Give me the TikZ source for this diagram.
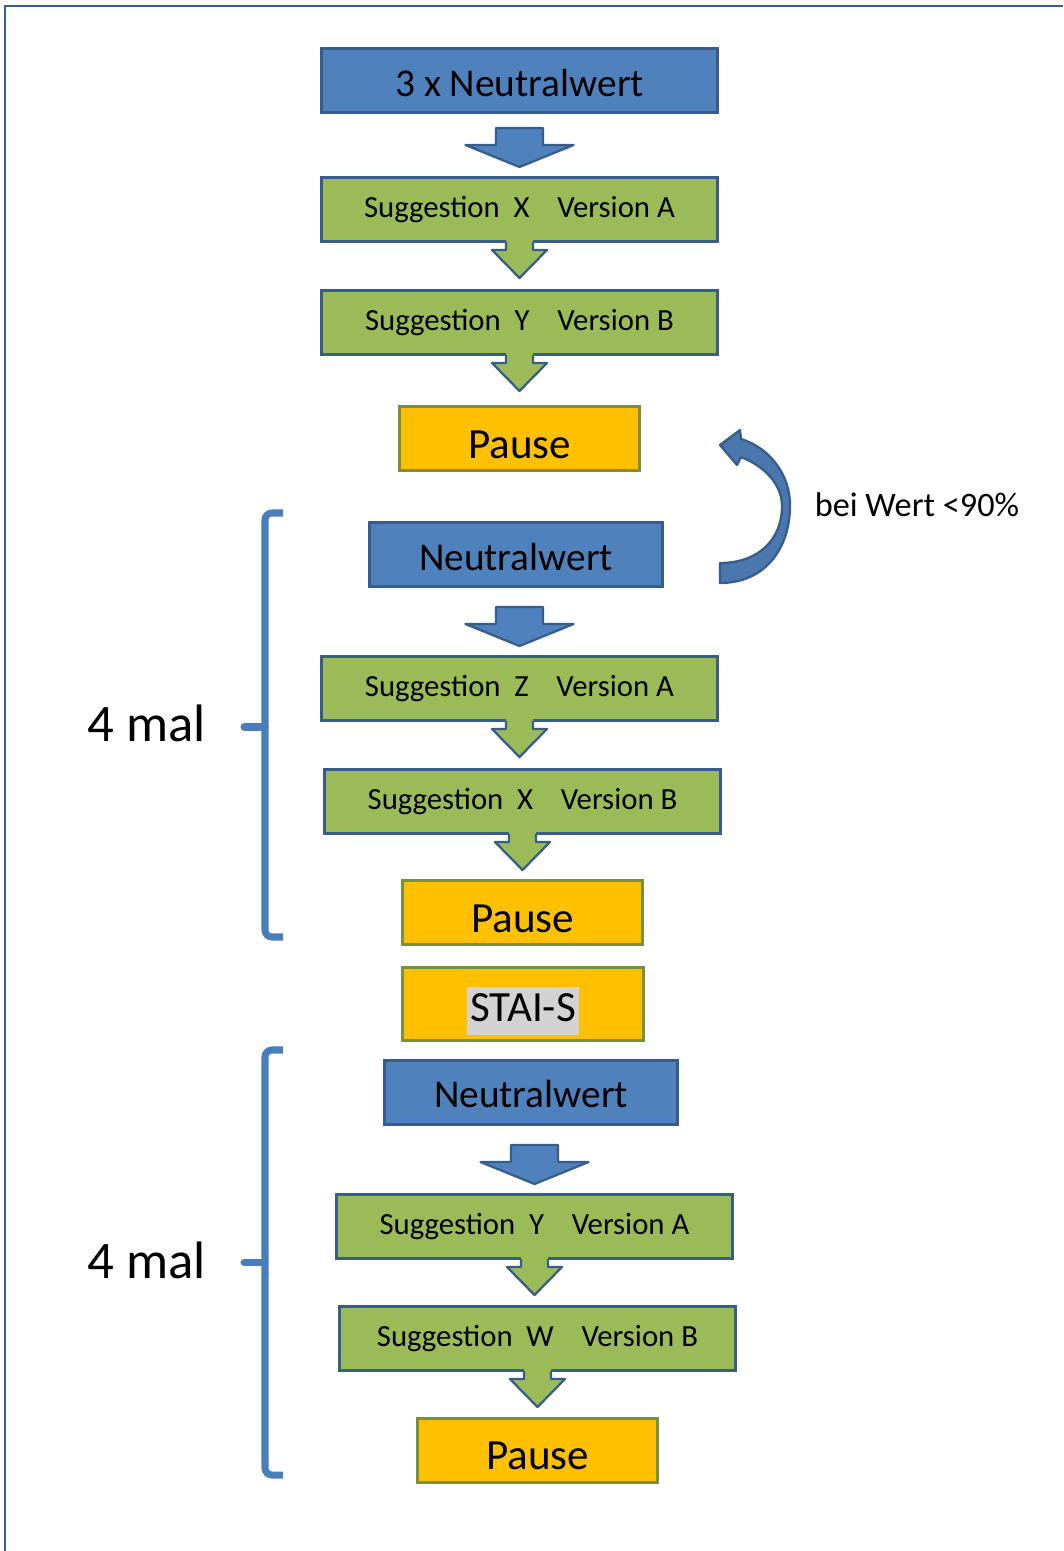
\documentclass[tikz,border=0pt]{standalone}
\usepackage{fontspec}
\setmainfont{Carlito}
\usepackage{tikz}
\usetikzlibrary{positioning,calc}
\usepackage{xcolor}
\definecolor{boxblue}{RGB}{79,129,189}
\definecolor{edgeblue}{RGB}{56,93,138}
\definecolor{suggreen}{RGB}{155,187,89}
\definecolor{pauseorange}{RGB}{255,192,0}
\definecolor{pauseedge}{RGB}{118,146,60}
\definecolor{bracketblue}{RGB}{74,126,187}
\definecolor{markgray}{RGB}{211,211,211}

\tikzset{
  neutralbox/.style={rectangle,draw=edgeblue,fill=boxblue,line width=1.7pt,
    minimum height=1.28cm,text height=18pt,text depth=0pt,font=\fontsize{22.4}{27}\selectfont},
  suggbox/.style={rectangle,draw=edgeblue,fill=suggreen,line width=1.7pt,
    minimum width=7.92cm,minimum height=1.28cm,font=\fontsize{17.5}{21}\selectfont},
  pausebox/.style={rectangle,draw=pauseedge,fill=pauseorange,line width=1.7pt,
    minimum width=4.8cm,minimum height=1.28cm,font=\fontsize{24.5}{29}\selectfont},
  arrowline/.style={draw=edgeblue,line width=1.3pt,line join=round},
  bracket/.style={draw=bracketblue,line width=4pt,rounded corners=4pt},
  countlabel/.style={font=\fontsize{30}{36}\selectfont},
}

\newcommand{\sugg}[3]{Suggestion\hspace{0.45em}#1\hspace{0.9em}Version #2#3}

% green down arrow hanging under a box
\newcommand{\greendown}[1]{%
  \begin{scope}[shift={(#1.south)}]
    \fill[suggreen] (-13.5,-4) -- (-13.5,7) -- (-27.5,7) -- (0,35) -- (27.5,7) -- (13.5,7) -- (13.5,-4) -- cycle;
    \draw[arrowline] (-13.5,-1) -- (-13.5,7) -- (-27.5,7) -- (0,35) -- (27.5,7) -- (13.5,7) -- (13.5,-1);
  \end{scope}}

% blue down arrow standing above a box
\newcommand{\bluedown}[1]{%
  \begin{scope}[shift={(#1.north)}]
    \filldraw[arrowline,fill=boxblue] (-23.5,-48) -- (-23.5,-31) -- (-54,-31) -- (0,-9) -- (54,-31) -- (23.5,-31) -- (23.5,-48) -- cycle;
  \end{scope}}

\begin{document}
\begin{tikzpicture}[x=0.02cm,y=-0.02cm]
\useasboundingbox (0,0) rectangle (1063,1551);
\draw[edgeblue,line width=1.2pt] (5,1551) -- (5,6) -- (1063,6);

% first block
\node[neutralbox,minimum width=7.92cm] (neutral1) at (519.5,80.5) {3 x Neutralwert};
\node[suggbox] (sugA1) at (519.5,209.5) {\sugg{X}{A}{}};
\node[suggbox] (sugB1) at (519.5,322.5) {\sugg{Y}{B}{}};
\node[pausebox,text height=22.6pt,text depth=0pt] (pause1) at (519.5,438.5) {Pause};
\bluedown{sugA1}
\greendown{sugA1}
\greendown{sugB1}

% second block
\node[neutralbox,minimum width=5.86cm] (neutral2) at (516,554.5) {Neutralwert};
\node[suggbox] (sugA2) at (519.5,688.5) {\sugg{Z}{A}{}};
\node[suggbox] (sugB2) at (522.5,801.5) {\sugg{X}{B}{}};
\node[pausebox,text height=22.6pt,text depth=0pt] (pause2) at (522.5,912.5) {Pause};
\bluedown{sugA2}
\greendown{sugA2}
\greendown{sugB2}

\node[pausebox,minimum width=4.82cm,minimum height=1.38cm,text height=27.5pt,text depth=7.5pt] (stai) at (523,1004)
  {\setlength{\fboxsep}{1.5pt}\colorbox{markgray}{\rule[-0.25em]{0pt}{1em}STAI-S}};

% third block
\node[neutralbox,minimum width=5.86cm] (neutral3) at (531,1092) {Neutralwert};
\node[suggbox] (sugA3) at (534.5,1226.5) {\sugg{Y}{A}{}};
\node[suggbox] (sugB3) at (537.5,1338.5) {\sugg{W}{B}{}};
\node[pausebox,text height=22.6pt,text depth=0pt] (pause3) at (537.5,1450) {Pause};
\bluedown{sugA3}
\greendown{sugA3}
\greendown{sugB3}

% repeat arrow
\filldraw[arrowline,fill=boxblue!92!black] (720,583) .. controls (764,583) and (790,550) .. (790,505)
  .. controls (790,475) and (770,448) .. (741,439) -- (740,430) -- (720,445) -- (737,465) -- (741,457)
  .. controls (764,466) and (782,484) .. (782,506) .. controls (782,540) and (758,563) .. (720,563) -- cycle;
\node[font=\fontsize{19.5}{23}\selectfont] (retry) at (917,505) {bei Wert <90\%};

% brackets
\draw[bracket] (283,513) -- (265,513) -- (265,937) -- (283,937);
\draw[bracket,line cap=round] (265,727) -- (244,727);
\node[countlabel] (count1) at (147,723) {4 mal};
\draw[bracket] (283,1050) -- (265,1050) -- (265,1475) -- (283,1475);
\draw[bracket,line cap=round] (265,1262) -- (244,1262);
\node[countlabel] (count2) at (147,1260) {4 mal};
\end{tikzpicture}
\end{document}
